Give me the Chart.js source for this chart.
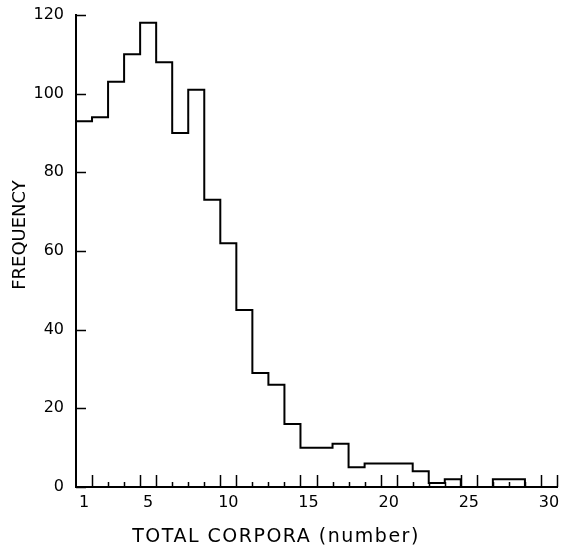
<!DOCTYPE html>
<html>
<head>
<meta charset="utf-8">
<script src="https://cdn.jsdelivr.net/npm/chart.js@4/dist/chart.umd.min.js"></script>
<style>
  html, body { margin: 0; padding: 0; background: #fff; }
  #wrap { width: 561px; height: 551px; }
</style>
</head>
<body>
<div id="wrap"><canvas id="histo"></canvas></div>
<script>
// total corpora (number) per female, bins of width 1
const categories = [1, 2, 3, 4, 5, 6, 7, 8, 9, 10, 11, 12, 13, 14, 15,
  16, 17, 18, 19, 20, 21, 22, 23, 24, 25, 26, 27, 28, 29, 30];
const frequency = [93, 94, 103, 110, 118, 108, 90, 101, 73, 62, 45, 29, 26, 16, 10,
  10, 11, 5, 6, 6, 6, 4, 1, 2, 0, 0, 2, 2, 0, 0];
const xTickLabels = [1, 5, 10, 15, 20, 25, 30];
const yTickLabels = [0, 20, 40, 60, 80, 100, 120];

const FONT = "'DejaVu Sans', sans-serif";

// step outline: one point at the left edge of every bin, plus the closing right edge
const outline = categories.map((c, i) => ({ x: c - 0.5, y: frequency[i] }));
outline.push({ x: categories[categories.length - 1] + 0.5, y: frequency[frequency.length - 1] });

// inward tick marks (bin edges on x, every 20 on y) and the axis titles
const ticksAndTitles = {
  id: 'ticksAndTitles',
  afterDraw(chart) {
    const ctx = chart.ctx;
    const xs = chart.scales.x, ys = chart.scales.y;
    const area = chart.chartArea;
    ctx.save();
    ctx.strokeStyle = '#000';
    ctx.lineWidth = 1.5;
    ctx.beginPath();
    const edges = categories.map(c => c + 0.5);
    edges.forEach(e => {
      const tall = xTickLabels.some(v => Math.abs(v - e) === 0.5);
      const px = Math.round(xs.getPixelForValue(e)) + 0.5;
      ctx.moveTo(px, area.bottom);
      ctx.lineTo(px, area.bottom - (tall ? 12 : 5));
    });
    yTickLabels.forEach(v => {
      const py = Math.round(ys.getPixelForValue(v)) + 0.5;
      ctx.moveTo(area.left, py);
      ctx.lineTo(area.left + 10, py);
    });
    ctx.stroke();

    ctx.fillStyle = '#000';
    ctx.textAlign = 'center';
    ctx.textBaseline = 'middle';
    ctx.font = '19px ' + FONT;
    ctx.letterSpacing = '1.5px';
    ctx.fillText('TOTAL CORPORA (number)', 276, 537);
    ctx.font = '18px ' + FONT;
    ctx.letterSpacing = '0px';
    ctx.translate(20, 235);
    ctx.rotate(-Math.PI / 2);
    ctx.fillText('FREQUENCY', 0, 0);
    ctx.restore();
  }
};

new Chart(document.getElementById('histo'), {
  type: 'line',
  data: {
    datasets: [{
      data: outline,
      stepped: 'before',
      borderColor: '#000',
      borderWidth: 2,
      pointRadius: 0,
      fill: false
    }]
  },
  options: {
    responsive: true,
    maintainAspectRatio: false,
    animation: false,
    events: [],
    layout: { padding: { top: 15, right: 4, left: 0, bottom: 0 } },
    plugins: { legend: { display: false }, tooltip: { enabled: false } },
    scales: {
      x: {
        type: 'linear',
        min: 0.5,
        max: 30.5,
        afterBuildTicks: s => { s.ticks = xTickLabels.map(v => ({ value: v })); },
        afterFit: s => { s.height = 64; s.paddingLeft = 0; s.paddingRight = 0; },
        grid: { display: false, drawTicks: false },
        border: { display: true, color: '#000', width: 2 },
        ticks: { color: '#000', padding: 6, font: { family: FONT, size: 16 }, maxRotation: 0, autoSkip: false }
      },
      y: {
        min: 0,
        max: 120,
        afterBuildTicks: s => { s.ticks = yTickLabels.map(v => ({ value: v })); },
        afterFit: s => { s.width = 76; s.paddingTop = 0; s.paddingBottom = 0; },
        grid: { display: false, drawTicks: false },
        border: { display: true, color: '#000', width: 2 },
        ticks: { color: '#000', padding: 12, font: { family: FONT, size: 16 } }
      }
    }
  },
  plugins: [ticksAndTitles]
});
</script>
</body>
</html>
